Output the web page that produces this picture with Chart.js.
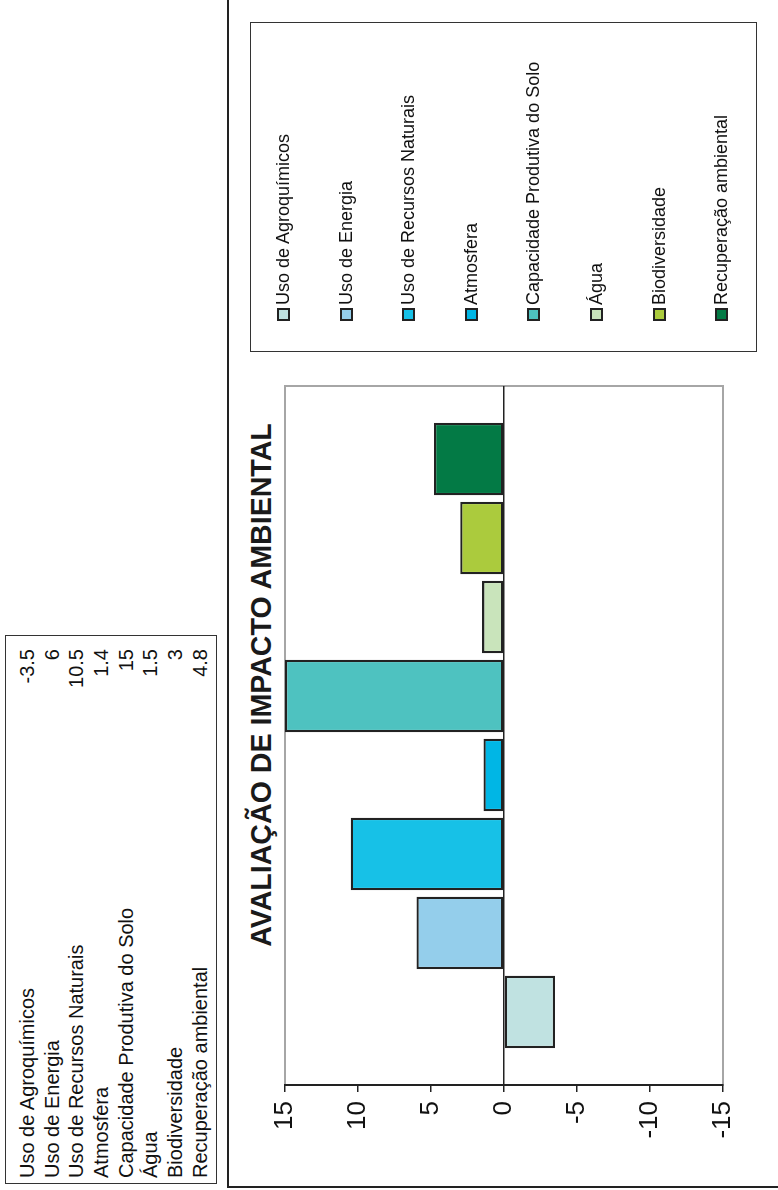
<!DOCTYPE html>
<html>
<head>
<meta charset="utf-8">
<script src="https://cdn.jsdelivr.net/npm/chart.js@4.4.0/dist/chart.umd.min.js"></script>
<style>
    body { margin: 0; background: #fff; overflow: hidden; font-family: "Liberation Sans", Arial, sans-serif; color: #111; }
    /* tudo é desenhado "deitado" e depois girado 90° no sentido anti-horário */
    #quadro { position: absolute; left: 0; top: 0; width: 1190px; height: 778px;
              transform-origin: 0 0; transform: translate(0, 1190px) rotate(-90deg); }
    #tabela { position: absolute; left: 6px; top: 5px; width: 549px; height: 212px;
              border: 1.5px solid #333; box-sizing: border-box; padding-top: 9px; }
    .linha { position: relative; height: 24.7px; line-height: 24.7px; font-size: 20px; }
    .linha .rot { position: absolute; left: 5px; }
    .linha .val { position: absolute; right: 13px; }
    #caixa { position: absolute; left: 2px; top: 227px; width: 1190px; height: 553px;
             border: 2px solid #222; box-sizing: border-box; }
    #grafico { position: absolute; left: 0; top: 228px; }
    #titulo { position: absolute; left: 205px; width: 600px; top: 247px; text-align: center;
              font-size: 28.6px; line-height: 28px; font-weight: bold; color: #1a1a1a; }
    #legenda { position: absolute; left: 838px; top: 250px; width: 330px; height: 507px;
               border: 1.5px solid #333; box-sizing: border-box; }
    .item { position: absolute; left: 30px; height: 20px; line-height: 20px; font-size: 18px; white-space: nowrap; }
    .item span.q { display: inline-block; width: 13px; height: 13px; border: 2px solid #222;
                   box-sizing: border-box; vertical-align: -1px; margin-right: 3px; }
</style>
</head>
<body>
<div id="quadro">
    <div id="tabela"></div>
    <div id="caixa"></div>
    <div id="titulo">AVALIAÇÃO DE IMPACTO AMBIENTAL</div>
    <canvas id="grafico" width="1190" height="550"></canvas>
    <div id="legenda"></div>
</div>
<script>
// Dados
const categorias = ['Uso de Agroquímicos', 'Uso de Energia', 'Uso de Recursos Naturais', 'Atmosfera',
    'Capacidade Produtiva do Solo', 'Água', 'Biodiversidade', 'Recuperação ambiental'];
const valores = [-3.5, 6, 10.5, 1.4, 15, 1.5, 3, 4.8];
const ticksEixo = [15, 10, 5, 0, -5, -10, -15];
const cores = ['#c0e2e1', '#94ceeb', '#17c1e7', '#00b6e5', '#4ec2c0', '#c9e4bb', '#abcb3d', '#037a45'];

// Tabela de dados
const tabela = document.getElementById('tabela');
categorias.forEach((c, i) => {
    const l = document.createElement('div');
    l.className = 'linha';
    l.innerHTML = '<span class="rot">' + c + '</span><span class="val">' + valores[i] + '</span>';
    tabela.appendChild(l);
});

// Legenda
const legenda = document.getElementById('legenda');
categorias.forEach((c, i) => {
    const it = document.createElement('div');
    it.className = 'item';
    it.style.top = (22 + i * 62.6) + 'px';
    it.innerHTML = '<span class="q" style="background:' + cores[i] + '"></span>' + c;
    legenda.appendChild(it);
});

// moldura cinza da área de plotagem
const moldura = {
    id: 'moldura',
    beforeDraw(chart) {
        const a = chart.chartArea, ctx = chart.ctx;
        ctx.save();
        ctx.strokeStyle = '#a6a6a6';
        ctx.lineWidth = 2;
        ctx.strokeRect(a.left, a.top, a.right - a.left, a.bottom - a.top);
        ctx.restore();
    }
};

const grafico = new Chart(
    document.getElementById('grafico'),
    {
        type: 'bar',
        data: {
            labels: [''],
            datasets: categorias.map((c, i) => ({
                label: c,
                data: [valores[i]],
                backgroundColor: cores[i],
                borderColor: '#222',
                borderWidth: 2.3,
                borderSkipped: false,
                categoryPercentage: 0.904,
                barPercentage: 0.917
            }))
        },
        options: {
            responsive: false,
            animation: false,
            layout: { padding: { left: 20, right: 386, top: 57, bottom: 55 } },
            plugins: {
                legend: { display: false },
                title: { display: false },
                tooltip: { enabled: false }
            },
            scales: {
                x: {
                    grid: { display: false },
                    border: { display: true, color: '#a6a6a6', width: 2 },
                    ticks: { display: false },
                    afterFit: s => { s.height = 0; }
                },
                y: {
                    min: Math.min(...ticksEixo),
                    max: Math.max(...ticksEixo),
                    ticks: {
                        stepSize: ticksEixo[0] - ticksEixo[1],
                        padding: 9,
                        color: '#111',
                        font: { family: '"Liberation Sans", Arial, sans-serif', size: 26 }
                    },
                    grid: {
                        color: ctx => ctx.tick.value === 0 ? '#222' : 'transparent',
                        tickColor: '#222',
                        tickLength: 7,
                        lineWidth: 1.5
                    },
                    border: { color: '#222', width: 2 },
                    afterFit: s => { s.width = 85; }
                }
            }
        },
        plugins: [moldura]
    }
);
</script>
</body>
</html>
